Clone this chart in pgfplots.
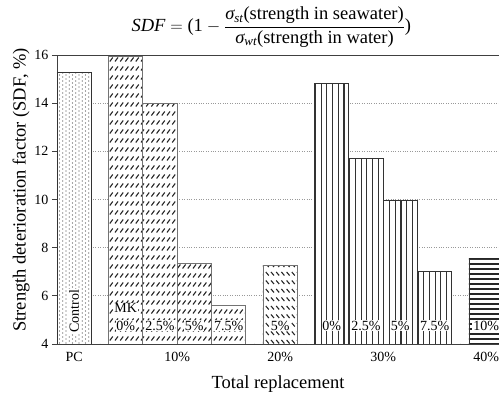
\documentclass[border=0pt]{standalone}
\usepackage{amsmath}
\usepackage{fontspec}
\setmainfont{Liberation Serif}
\usepackage{pgfplots}
\pgfplotsset{compat=1.18}
\usetikzlibrary{patterns}

\pgfdeclarepatternformonly{pcdots}{\pgfqpoint{-1pt}{-1pt}}{\pgfqpoint{8pt}{5pt}}{\pgfqpoint{6.5pt}{4pt}}{%
  \pgfpathcircle{\pgfqpoint{1pt}{1pt}}{0.7pt}
  \pgfpathcircle{\pgfqpoint{4.25pt}{3pt}}{0.7pt}
  \pgfusepath{fill}}
\pgfdeclarepatternformonly{mkslash}{\pgfqpoint{-1pt}{-1pt}}{\pgfqpoint{6pt}{10pt}}{\pgfqpoint{5.2pt}{9pt}}{%
  \pgfsetlinewidth{1.1pt}
  \pgfpathmoveto{\pgfqpoint{0.6pt}{1.5pt}}
  \pgfpathlineto{\pgfqpoint{3.6pt}{5.5pt}}
  \pgfusepath{stroke}}
\pgfdeclarepatternformonly{bkslash}{\pgfqpoint{-1pt}{-1pt}}{\pgfqpoint{6pt}{10pt}}{\pgfqpoint{5.2pt}{8.5pt}}{%
  \pgfsetlinewidth{1.1pt}
  \pgfpathmoveto{\pgfqpoint{0.6pt}{5pt}}
  \pgfpathlineto{\pgfqpoint{3.6pt}{1.5pt}}
  \pgfusepath{stroke}}
\pgfdeclarepatternformonly{vlines}{\pgfqpoint{-1pt}{-1pt}}{\pgfqpoint{6pt}{6pt}}{\pgfqpoint{5.7pt}{5pt}}{%
  \pgfsetlinewidth{1.1pt}
  \pgfpathmoveto{\pgfqpoint{2pt}{-1pt}}
  \pgfpathlineto{\pgfqpoint{2pt}{6pt}}
  \pgfusepath{stroke}}
\pgfdeclarepatternformonly{hlines}{\pgfqpoint{-1pt}{-1pt}}{\pgfqpoint{6pt}{6pt}}{\pgfqpoint{5pt}{5pt}}{%
  \pgfsetlinewidth{1.2pt}
  \pgfpathmoveto{\pgfqpoint{-1pt}{2pt}}
  \pgfpathlineto{\pgfqpoint{6pt}{2pt}}
  \pgfusepath{stroke}}

\newcommand\sdftitle{$\text{\itshape SDF} = \text{(1} - \dfrac{\text{\itshape σ}_{\text{\itshape st}}\text{(strength in seawater)}}{\text{\itshape σ}_{\text{\itshape wt}}\text{(strength in water)}}\text{)}$}
\tikzset{lbl/.style={fill=white, inner sep=0.8pt, font=\fontsize{14}{16}\selectfont}}

\begin{document}
\begin{tikzpicture}
\path[use as bounding box] (0,0) rectangle (499pt,396pt);
\begin{axis}[
  at={(57pt,52pt)}, anchor=south west,
  scale only axis, width=442pt, height=289pt,
  xmin=-0.5, xmax=12.375, ymin=4, ymax=16,
  axis x line*=bottom, axis y line*=left,
  x axis line style={-}, y axis line style={-},
  axis line style={black!75, line width=0.8pt},
  ytick={4,6,...,16},
  xtick={0,3,6,9,12},
  xticklabels={PC,10\%,20\%,30\%,40\%},
  xtick style={draw=none},
  ytick style={black!75, line width=0.8pt},
  tick align=outside, major tick length=5pt,
  ymajorgrids, grid style={dotted, black!40, line width=0.7pt},
  tick label style={font=\fontsize{14}{16}\selectfont},
  /pgf/number format/assume math mode=true,
  xlabel={Total replacement},
  ylabel={Strength deterioration factor (SDF, \%)},
  every axis x label/.style={at={(axis description cs:0.5,-0.138)}, anchor=center, font=\fontsize{18.5}{22}\selectfont},
  every axis y label/.style={at={(axis description cs:-0.0814,0.533)}, anchor=center, rotate=90, font=\fontsize{18.5}{22}\selectfont},
  title={\sdftitle},
  every axis title/.style={at={(axis description cs:0.485,1.097)}, anchor=center, font=\fontsize{18.5}{22}\selectfont},
]
% PC control
\addplot[ybar, bar width=1, bar shift=0pt, draw=black!80, line width=0.8pt, fill=white,
  postaction={pattern=pcdots, pattern color=black!70}] coordinates {(0,15.27)};
% MK (10%)
\addplot[ybar, bar width=1, bar shift=0pt, draw=black!55, line width=0.8pt, fill=white,
  postaction={pattern=mkslash, pattern color=black!85}] coordinates {(1.5,15.96) (2.5,13.98) (3.5,7.33) (4.5,5.61)};
% 20%
\addplot[ybar, bar width=1, bar shift=0pt, draw=black!55, line width=0.8pt, fill=white,
  postaction={pattern=bkslash, pattern color=black!85}] coordinates {(6,7.26)};
% 30%
\addplot[ybar, bar width=1, bar shift=0pt, draw=black!80, line width=0.8pt, fill=white,
  postaction={pattern=vlines, pattern color=black!80}] coordinates {(7.5,14.83) (8.5,11.69) (9.5,9.95) (10.5,7.03)};
% 40%
\addplot[ybar, bar width=1, bar shift=0pt, draw=black!80, line width=0.8pt, fill=white,
  postaction={pattern=hlines, pattern color=black!85}] coordinates {(12,7.53)};

\draw[black!75, line width=0.8pt] (rel axis cs:0,1) -- (rel axis cs:1,1);
\draw[black!75, line width=0.8pt] (axis cs:0.75,4) -- ++(0,4pt);
\draw[black!75, line width=0.8pt] (axis cs:5.25,4) -- ++(0,4pt);
\draw[black!75, line width=0.8pt] (axis cs:6.75,4) -- ++(0,4pt);
\draw[black!75, line width=0.8pt] (axis cs:11.25,4) -- ++(0,4pt);

\node[lbl, rotate=90] at (axis cs:0,5.35) {Control};
\node[lbl] at (axis cs:1.5,5.48) {MK};
\node[lbl] at (axis cs:1.5,4.76) {0\%};
\node[lbl] at (axis cs:2.5,4.76) {2.5\%};
\node[lbl] at (axis cs:3.5,4.76) {5\%};
\node[lbl] at (axis cs:4.5,4.76) {7.5\%};
\node[lbl] at (axis cs:6,4.76) {5\%};
\node[lbl] at (axis cs:7.5,4.76) {0\%};
\node[lbl] at (axis cs:8.5,4.76) {2.5\%};
\node[lbl] at (axis cs:9.5,4.76) {5\%};
\node[lbl] at (axis cs:10.5,4.76) {7.5\%};
\node[lbl] at (axis cs:12,4.76) {10\%};
\end{axis}
\end{tikzpicture}
\end{document}
